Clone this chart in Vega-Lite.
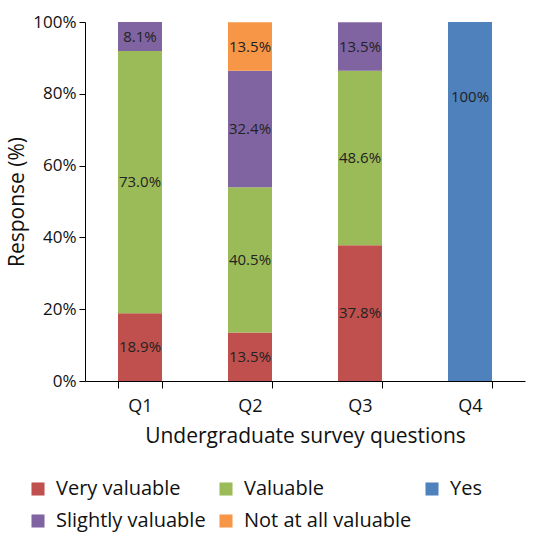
{
  "$schema": "https://vega.github.io/schema/vega-lite/v6.json",
  "width": 440,
  "height": 359,
  "autosize": {"type": "none"},
  "padding": {"left": 85, "top": 22, "right": 12, "bottom": 157},
  "background": "white",
  "config": {
    "font": "Open Sans",
    "view": {"stroke": null},
    "axis": {"grid": false, "domainColor": "#000", "tickColor": "#000", "labelColor": "#111", "titleColor": "#111", "labelFont": "Open Sans", "titleFont": "Open Sans", "titleFontWeight": "normal"},
    "legend": {"labelFont": "Open Sans"}
  },
  "data": {
    "values": [
      {"q": "Q1", "category": "Very valuable", "order": 1, "value": 18.9, "label": "18.9%"},
      {"q": "Q1", "category": "Valuable", "order": 2, "value": 73.0, "label": "73.0%"},
      {"q": "Q1", "category": "Slightly valuable", "order": 3, "value": 8.1, "label": "8.1%"},
      {"q": "Q2", "category": "Very valuable", "order": 1, "value": 13.5, "label": "13.5%"},
      {"q": "Q2", "category": "Valuable", "order": 2, "value": 40.5, "label": "40.5%"},
      {"q": "Q2", "category": "Slightly valuable", "order": 3, "value": 32.4, "label": "32.4%"},
      {"q": "Q2", "category": "Not at all valuable", "order": 4, "value": 13.5, "label": "13.5%"},
      {"q": "Q3", "category": "Very valuable", "order": 1, "value": 37.8, "label": "37.8%"},
      {"q": "Q3", "category": "Valuable", "order": 2, "value": 48.6, "label": "48.6%"},
      {"q": "Q3", "category": "Slightly valuable", "order": 3, "value": 13.5, "label": "13.5%"},
      {"q": "Q4", "category": "Yes", "order": 1, "value": 100, "label": "100%"}
    ]
  },
  "transform": [
    {"stack": "value", "groupby": ["q"], "sort": [{"field": "order", "order": "ascending"}], "as": ["y0", "y1"]},
    {"calculate": "datum.q == 'Q4' ? 79 : (datum.y0 + datum.y1) / 2", "as": "mid"}
  ],
  "layer": [
    {
      "mark": {"type": "bar"},
      "encoding": {
        "x": {
          "field": "q", "type": "nominal",
          "scale": {"paddingInner": 0.6, "paddingOuter": 0.3},
          "axis": {"title": "Undergraduate survey questions", "labelAngle": 0, "labelFontSize": 18, "titleFontSize": 21, "tickBand": "extent", "tickSize": 7, "labelPadding": 9, "titlePadding": 10, "domainWidth": 1}
        },
        "y": {
          "field": "y0", "type": "quantitative",
          "scale": {"domain": [0, 100]},
          "axis": {"title": "Response (%)", "values": [0, 20, 40, 60, 80, 100], "labelExpr": "datum.value + '%'", "labelFontSize": 17, "titleFontSize": 21, "tickSize": 6, "labelPadding": 3, "titlePadding": 5}
        },
        "y2": {"field": "y1"},
        "color": {
          "field": "category", "type": "nominal",
          "scale": {
            "domain": ["Very valuable", "Valuable", "Yes", "Slightly valuable", "Not at all valuable"],
            "range": ["#C0504D", "#9BBB59", "#4F81BD", "#8064A2", "#F79646"]
          },
          "legend": {
            "title": null, "orient": "none", "legendX": -57, "legendY": 457,
            "direction": "horizontal", "columns": 3, "symbolType": "square", "symbolSize": 170,
            "symbolStrokeWidth": 0, "labelFontSize": 20, "labelColor": "#111", "labelLimit": 0, "columnPadding": 10, "rowPadding": 12, "padding": 0, "labelOffset": 8
          }
        }
      }
    },
    {
      "mark": {"type": "text", "fontSize": 15, "color": "#222"},
      "encoding": {
        "x": {"field": "q", "type": "nominal"},
        "y": {"field": "mid", "type": "quantitative"},
        "text": {"field": "label"}
      }
    }
  ]
}
